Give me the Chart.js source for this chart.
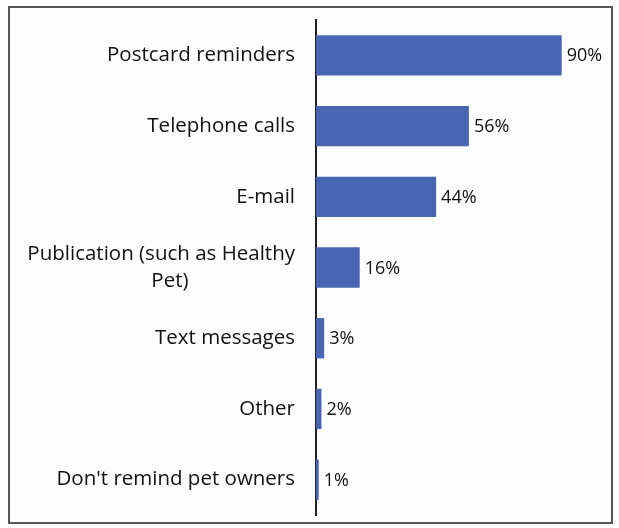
<!DOCTYPE html>
<html>
<head>
<meta charset="utf-8">
<script src="https://cdn.jsdelivr.net/npm/chart.js@4.4.0/dist/chart.umd.min.js"></script>
<style>
  html, body { margin: 0; padding: 0; background: #fdfdfd; }
  #wrap { position: relative; width: 619px; height: 528px; }
  #frame { position: absolute; left: 8px; top: 6px; width: 601px; height: 514px; border: 2px solid #555; pointer-events: none; }
  canvas { position: absolute; left: 0; top: 0; }
</style>
</head>
<body>
<div id="wrap">
  <canvas id="chart" width="619" height="528"></canvas>
  <div id="frame"></div>
</div>
<script>
// Данные
const categories = [
  'Postcard reminders',
  'Telephone calls',
  'E-mail',
  ['Publication (such as Healthy', 'Pet)' + ' '.repeat(20)],
  'Text messages',
  'Other',
  "Don't remind pet owners"
];
const values = [90, 56, 44, 16, 3, 2, 1];

const fontFamily = '"Open Sans", "Noto Sans", sans-serif';

// Подписи значений справа от столбцов
const valueLabels = {
  id: 'valueLabels',
  afterDatasetsDraw(chart) {
    const ctx = chart.ctx;
    const meta = chart.getDatasetMeta(0);
    ctx.save();
    ctx.font = '18px ' + fontFamily;
    ctx.fillStyle = '#111';
    ctx.textAlign = 'left';
    ctx.textBaseline = 'middle';
    meta.data.forEach(function (bar, i) {
      ctx.fillText(values[i] + '%', bar.x + 5, bar.y + 1);
    });
    ctx.restore();
  }
};

new Chart(document.getElementById('chart').getContext('2d'), {
  type: 'bar',
  data: {
    labels: categories,
    datasets: [{
      data: values,
      backgroundColor: '#4865b2',
      borderWidth: 0,
      categoryPercentage: 1,
      barPercentage: 0.57
    }]
  },
  options: {
    indexAxis: 'y',
    responsive: false,
    animation: false,
    layout: { padding: { left: 0, right: 30, top: 20, bottom: 13 } },
    plugins: {
      legend: { display: false },
      tooltip: { enabled: false }
    },
    scales: {
      x: {
        display: false,
        min: 0,
        max: 100
      },
      y: {
        afterFit: function (scale) {
          scale.width = 316;
          scale.paddingTop = 0;
          scale.paddingBottom = 0;
        },
        grid: { display: false, drawTicks: false },
        border: { display: true, color: '#222', width: 2 },
        ticks: {
          padding: 21,
          color: '#111',
          font: { family: fontFamily, size: 20.5, lineHeight: 1.32 }
        }
      }
    }
  },
  plugins: [valueLabels]
});
</script>
</body>
</html>
